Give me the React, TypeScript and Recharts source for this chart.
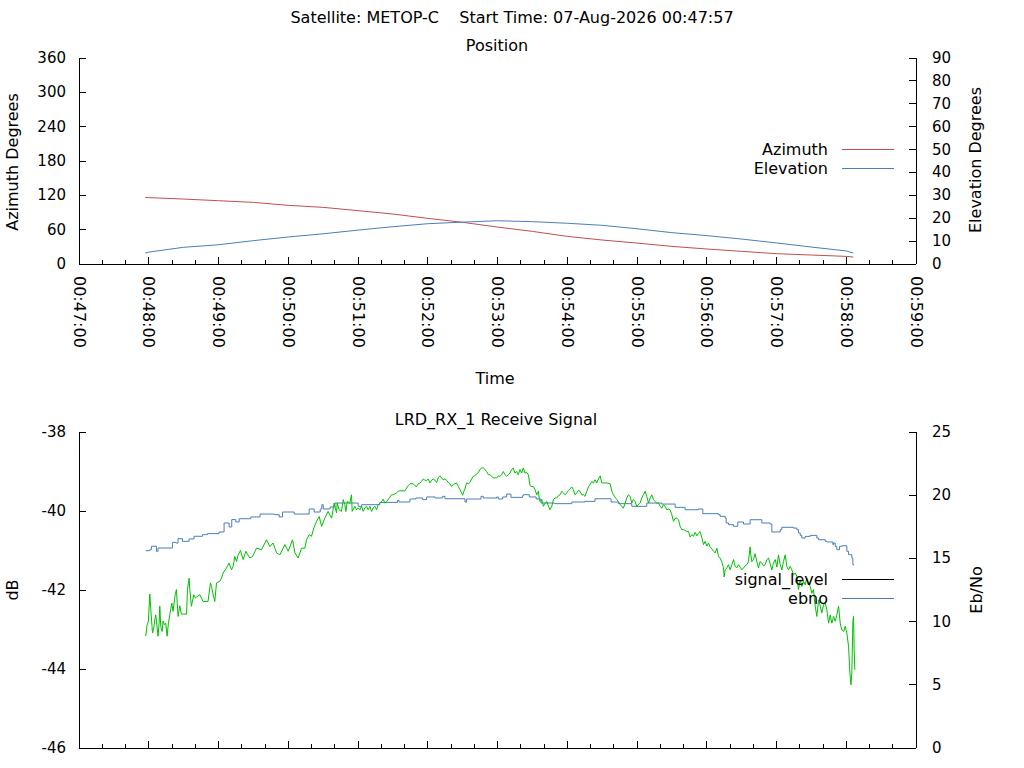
import React from 'react'
import { Legend, Line, LineChart, XAxis, YAxis } from 'recharts'

// time axis: seconds after 00:47:00
const TIME_LABELS = [
  '00:47:00', '00:48:00', '00:49:00', '00:50:00', '00:51:00', '00:52:00', '00:53:00',
  '00:54:00', '00:55:00', '00:56:00', '00:57:00', '00:58:00', '00:59:00',
]
const TIME_TICKS = Array.from({ length: 37 }, (_, i) => i * 20)

const AZ_TICKS = [0, 60, 120, 180, 240, 300, 360]
const EL_TICKS = [0, 10, 20, 30, 40, 50, 60, 70, 80, 90]
const DB_TICKS = [-46, -44, -42, -40, -38]
const EBNO_TICKS = [0, 5, 10, 15, 20, 25]

// position pass
const POS_T = [57, 60, 90, 120, 150, 180, 210, 240, 270, 300, 330, 360, 390, 420, 450, 480, 510, 540, 570, 600, 630, 660, 666]
const AZIMUTH = [116.5, 116.0, 113.5, 110.6, 107.7, 102.5, 99.0, 93.2, 87.3, 79.8, 72.8, 64.6, 57.0, 48.3, 41.9, 36.6, 30.8, 26.2, 22.1, 18.0, 15.7, 13.3, 12.2]
const ELEVATION = [4.8, 5.2, 7.3, 8.4, 10.2, 11.8, 13.2, 14.8, 16.3, 17.6, 18.3, 18.9, 18.5, 17.8, 16.9, 15.4, 13.7, 12.4, 10.9, 9.2, 7.4, 5.7, 4.8]

// received signal level (dB)
const SIG_T = [
  57.4, 58.5, 59.7, 60.9, 61.7, 62.8, 63.2, 64.3, 65.2, 66.0, 66.6, 68.0, 68.9, 69.5, 70.3, 71.5, 72.3, 73.5, 74.6, 75.8,
  76.9, 78.1, 79.8, 80.9, 82.7, 83.8, 85.2, 86.7, 88.1, 92.5, 93.3, 94.7, 95.3, 96.7, 98.7, 100.2, 103.9, 106.7, 111.0, 111.9,
  113.1, 114.0, 115.4, 116.8, 118.3, 121.1, 122.6, 124.0, 126.9, 129.1, 131.2, 132.6, 134.0, 135.5, 136.9, 138.9, 141.2, 143.5, 146.9, 149.3,
  152.7, 157.0, 161.3, 164.2, 167.0, 169.9, 172.8, 177.1, 179.9, 183.7, 185.7, 188.5, 191.4, 194.3, 195.7, 198.0, 200.0, 202.0, 204.4, 206.6,
  208.7, 211.5, 214.3, 217.3, 219.5, 221.5, 222.1, 223.8, 225.8, 227.3, 228.7, 229.6, 230.7, 233.0, 234.4, 235.0, 237.3, 238.8, 240.2, 241.6,
  243.1, 244.5, 245.9, 247.4, 248.8, 250.2, 251.7, 253.1, 254.5, 256.0, 257.4, 258.8, 260.3, 261.7, 263.1, 264.6, 266.0, 267.4, 268.9, 270.3,
  273.2, 274.6, 276.0, 280.4, 281.8, 283.2, 284.7, 287.5, 289.0, 290.4, 291.8, 293.3, 294.7, 296.1, 297.6, 299.0, 300.4, 301.9, 303.3, 304.7,
  306.2, 307.6, 309.0, 310.5, 311.9, 313.3, 314.8, 316.2, 317.7, 319.1, 320.5, 322.0, 323.4, 324.8, 326.3, 327.7, 329.1, 330.0, 331.1, 332.0,
  333.4, 334.9, 336.3, 337.7, 339.2, 340.6, 342.0, 343.5, 344.9, 346.3, 347.8, 349.2, 350.6, 352.1, 353.5, 356.4, 359.3, 360.7, 362.1, 363.6,
  365.0, 366.4, 367.9, 369.3, 370.7, 372.2, 373.6, 375.0, 376.5, 377.9, 379.3, 380.8, 382.2, 383.6, 385.1, 386.5, 388.0, 389.4, 390.9, 392.3,
  393.2, 393.7, 395.2, 396.0, 396.6, 398.1, 399.5, 400.9, 402.4, 403.8, 405.2, 406.7, 408.1, 409.5, 411.0, 412.4, 413.8, 415.3, 416.7, 418.1,
  419.6, 421.0, 422.4, 423.9, 425.3, 426.7, 428.2, 429.6, 431.0, 432.5, 433.9, 435.3, 436.8, 438.2, 439.6, 441.1, 442.5, 443.9, 445.4, 446.8,
  448.3, 449.7, 451.1, 454.0, 456.9, 458.3, 459.7, 461.2, 462.6, 464.0, 465.5, 466.9, 468.3, 469.8, 471.2, 472.6, 474.1, 475.5, 476.9, 478.4,
  479.8, 481.2, 482.7, 484.1, 485.5, 487.0, 488.4, 489.9, 491.3, 492.7, 494.2, 495.6, 497.0, 498.5, 499.9, 501.3, 502.8, 504.2, 505.6, 507.1,
  508.5, 509.9, 511.4, 512.8, 514.2, 515.7, 517.1, 518.5, 520.0, 521.4, 522.9, 524.3, 525.7, 527.2, 528.6, 530.0, 531.5, 532.9, 534.3, 535.8,
  537.2, 538.6, 540.1, 541.5, 542.9, 544.4, 545.8, 547.2, 548.7, 550.1, 551.5, 552.9, 554.4, 555.0, 555.8, 557.3, 558.7, 560.1, 561.6, 563.0,
  564.4, 565.9, 567.3, 568.7, 570.2, 571.6, 573.0, 574.5, 575.9, 577.3, 577.9, 578.8, 580.2, 581.6, 583.1, 584.5, 585.9, 587.4, 588.8, 590.2,
  591.7, 593.1, 594.5, 596.0, 597.4, 598.9, 600.3, 601.7, 603.2, 604.6, 606.0, 607.5, 608.9, 610.3, 611.8, 613.2, 614.6, 616.1, 617.5, 618.9,
  620.4, 621.8, 623.2, 624.7, 626.1, 627.5, 629.0, 630.4, 631.8, 633.3, 634.7, 636.2, 637.6, 639.0, 640.5, 641.9, 643.3, 644.8, 646.2, 647.6,
  649.1, 650.5, 651.9, 653.4, 654.8, 656.2, 657.7, 659.1, 660.5, 662.0, 662.8, 663.4, 664.0, 664.8, 665.7, 666.3, 666.8, 667.4,
]
const SIG_DB = [
  -43.17, -42.90, -42.79, -42.10, -42.46, -42.92, -43.09, -42.96, -42.75, -42.63, -42.79, -43.17, -42.84, -42.41, -42.92, -43.05, -42.79, -42.88, -42.84, -43.17,
  -42.84, -42.63, -42.33, -42.54, -42.12, -41.99, -42.67, -42.40, -42.61, -42.61, -41.99, -41.70, -41.99, -42.41, -42.12, -42.20, -42.12, -42.29, -42.29, -42.08,
  -41.82, -41.91, -42.12, -42.29, -41.82, -41.78, -41.70, -41.57, -41.44, -41.32, -41.49, -41.40, -41.15, -41.28, -41.11, -41.00, -41.23, -41.02, -41.19, -41.15,
  -40.94, -40.98, -40.73, -40.90, -40.81, -41.06, -41.11, -40.85, -41.02, -40.73, -41.06, -41.19, -40.94, -40.94, -40.73, -40.60, -40.64, -40.43, -40.26, -40.14,
  -40.39, -40.18, -40.01, -40.18, -39.80, -40.05, -39.80, -39.97, -40.01, -39.71, -39.84, -40.01, -39.76, -39.80, -39.59, -40.01, -39.88, -39.97, -39.92, -39.97,
  -39.88, -40.01, -39.92, -39.88, -39.97, -39.88, -40.01, -39.92, -39.88, -39.97, -39.84, -39.80, -39.76, -39.70, -39.80, -39.76, -39.71, -39.65, -39.59, -39.59,
  -39.54, -39.50, -39.49, -39.49, -39.42, -39.36, -39.31, -39.31, -39.36, -39.38, -39.31, -39.29, -39.25, -39.19, -39.22, -39.23, -39.19, -39.29, -39.22, -39.19,
  -39.22, -39.28, -39.16, -39.11, -39.16, -39.21, -39.19, -39.22, -39.28, -39.31, -39.38, -39.33, -39.31, -39.29, -39.38, -39.46, -39.54, -39.60, -39.50, -39.44,
  -39.29, -39.31, -39.28, -39.19, -39.12, -39.11, -39.06, -39.03, -38.95, -38.91, -38.91, -38.95, -39.00, -39.08, -39.08, -39.16, -39.16, -39.12, -39.12, -39.08,
  -39.00, -39.08, -39.12, -39.08, -39.04, -38.95, -38.91, -39.04, -39.00, -39.08, -38.95, -39.04, -38.91, -39.04, -39.02, -39.08, -39.36, -39.38, -39.38, -39.46,
  -39.54, -39.59, -39.50, -39.71, -39.76, -39.71, -39.88, -39.80, -39.76, -39.88, -39.97, -39.88, -39.71, -39.67, -39.67, -39.61, -39.59, -39.50, -39.54, -39.59,
  -39.54, -39.48, -39.44, -39.39, -39.46, -39.59, -39.54, -39.48, -39.50, -39.59, -39.59, -39.63, -39.50, -39.39, -39.33, -39.25, -39.29, -39.21, -39.29, -39.19,
  -39.11, -39.29, -39.29, -39.29, -39.31, -39.50, -39.59, -39.65, -39.71, -39.76, -39.84, -39.88, -39.93, -39.80, -39.67, -39.59, -39.63, -39.80, -39.71, -39.76,
  -39.88, -39.84, -39.80, -39.67, -39.59, -39.50, -39.63, -39.80, -39.67, -39.59, -39.71, -39.76, -39.80, -39.80, -39.88, -39.93, -39.84, -39.88, -39.97, -39.95,
  -39.97, -40.09, -40.26, -40.18, -40.18, -40.22, -40.39, -40.47, -40.47, -40.49, -40.52, -40.52, -40.66, -40.60, -40.64, -40.54, -40.63, -40.56, -40.52, -40.68,
  -40.85, -40.77, -40.89, -40.81, -40.91, -40.96, -41.02, -41.06, -40.94, -41.15, -41.19, -41.28, -41.44, -41.67, -41.49, -41.44, -41.36, -41.49, -41.36, -41.23,
  -41.40, -41.44, -41.36, -41.42, -41.49, -41.44, -41.39, -41.36, -41.28, -40.91, -41.11, -41.28, -41.23, -41.08, -41.28, -41.44, -41.28, -41.32, -41.39, -41.36,
  -41.23, -41.19, -41.33, -41.49, -41.32, -41.23, -41.42, -41.11, -41.36, -41.49, -41.28, -41.11, -41.40, -41.49, -41.40, -41.49, -41.61, -41.57, -41.65, -41.99,
  -41.74, -41.91, -41.78, -41.87, -41.70, -41.82, -41.91, -42.08, -41.99, -42.41, -42.67, -42.25, -42.41, -42.58, -42.37, -42.33, -42.50, -42.84, -42.63, -42.84,
  -42.67, -42.79, -42.63, -42.41, -42.84, -43.01, -43.05, -42.92, -43.09, -43.43, -43.93, -44.19, -44.40, -44.10, -42.79, -42.67, -43.51, -44.02,
]

// Eb/No (dB), logged in steps
const EBNO_T = [
  57.4, 60.9, 62.3, 66.6, 68.0, 80.4, 83.2, 85.2, 89.0, 94.7, 99.0, 106.2, 110.5, 120.5, 124.8, 129.1, 131.4, 134.9, 137.8, 147.8,
  155.8, 167.9, 172.2, 175.0, 185.1, 198.0, 202.3, 207.5, 208.9, 210.1, 216.1, 220.1, 240.2, 243.1, 258.8, 274.0, 275.2, 284.7, 289.8, 295.6,
  299.0, 306.2, 312.8, 314.8, 332.0, 333.4, 345.8, 347.8, 359.3, 360.7, 364.4, 367.9, 371.6, 381.6, 382.3, 387.4, 393.2, 397.5, 409.0, 423.9,
  435.3, 443.9, 457.7, 464.0, 475.5, 488.4, 501.3, 512.8, 521.4, 532.9, 536.6, 550.1, 551.5, 555.8, 556.7, 558.7, 563.0, 566.7, 571.6, 577.3,
  587.4, 594.5, 596.0, 603.2, 604.6, 614.6, 617.5, 618.9, 620.4, 621.8, 624.7, 629.0, 634.7, 636.2, 641.9, 643.3, 648.5, 649.1, 650.5, 651.9,
  654.2, 656.2, 660.5, 662.0, 664.8, 665.7, 666.8,
]
const EBNO = [
  15.61, 15.69, 15.96, 15.56, 15.82, 16.27, 16.22, 16.56, 16.35, 16.54, 16.75, 16.88, 16.96, 17.09, 17.80, 17.49, 18.07, 17.88, 18.14, 18.28,
  18.51, 18.46, 18.28, 18.67, 18.51, 18.91, 18.67, 18.91, 19.25, 18.91, 19.07, 19.38, 19.12, 19.25, 19.43, 19.59, 19.46, 19.70, 19.78, 19.65,
  19.86, 19.78, 19.91, 19.72, 19.46, 19.70, 19.91, 19.78, 19.86, 19.70, 19.86, 20.09, 19.83, 19.96, 20.04, 19.86, 19.70, 19.38, 19.33, 19.46,
  19.51, 19.72, 19.46, 19.33, 19.12, 19.38, 19.30, 19.04, 18.85, 18.91, 18.54, 18.46, 18.33, 18.19, 17.80, 17.67, 17.54, 17.88, 17.72, 18.06,
  17.80, 17.72, 17.09, 17.27, 17.46, 17.40, 17.27, 17.01, 16.82, 16.61, 16.74, 16.82, 16.61, 16.48, 16.35, 16.30, 16.09, 16.22, 15.95, 15.69,
  15.95, 16.00, 15.56, 15.29, 15.03, 14.50, 14.50,
]

const RED = '#c0504d'
const BLUE = '#4a7ebb'
const GREEN = '#00c000'
const FONT = "'DejaVu Sans', sans-serif"
const FS = 16
const TICK_FS = 15

const posData = POS_T.map((t, i) => ({ t, az: AZIMUTH[i], el: ELEVATION[i] }))
const sigData = SIG_T.map((t, i) => ({ t, v: SIG_DB[i] }))
const ebnoData = EBNO_T.map((t, i) => ({ t, v: EBNO[i] }))

function timeTick(labels: boolean, top: boolean) {
  return (p: any) => {
    const major = p.payload.value % 60 === 0
    const len = major ? 7 : 4
    return (
      <g>
        <line x1={p.x} x2={p.x} y1={p.y} y2={top ? p.y + len : p.y - len} stroke="#000" shapeRendering="crispEdges" />
        {labels && major && (
          <text
            transform={`translate(${p.x},${p.y + 12}) rotate(90)`}
            dominantBaseline="central"
            fontFamily={FONT}
            fontSize={FS}
            fill="#000"
          >
            {TIME_LABELS[p.payload.value / 60]}
          </text>
        )}
      </g>
    )
  }
}

const leftTick = (p: any) => (
  <g>
    <line x1={p.x} x2={p.x + 7} y1={p.y} y2={p.y} stroke="#000" shapeRendering="crispEdges" />
    <text x={p.x - 13} y={p.y} textAnchor="end" dominantBaseline="central" fontFamily={FONT} fontSize={TICK_FS} fill="#000">
      {p.payload.value}
    </text>
  </g>
)

const rightTick = (p: any) => (
  <g>
    <line x1={p.x - 7} x2={p.x} y1={p.y} y2={p.y} stroke="#000" shapeRendering="crispEdges" />
    <text x={p.x + 16} y={p.y} textAnchor="start" dominantBaseline="central" fontFamily={FONT} fontSize={TICK_FS} fill="#000">
      {p.payload.value}
    </text>
  </g>
)

function legendBox(items: { name: string; color: string }[]) {
  return () => (
    <div style={{ fontFamily: FONT, fontSize: FS, color: '#000' }}>
      {items.map((it) => (
        <div key={it.name} style={{ display: 'flex', alignItems: 'center', height: 19 }}>
          <span style={{ width: 134, textAlign: 'right', whiteSpace: 'nowrap' }}>{it.name}</span>
          <span style={{ width: 14 }} />
          <span style={{ width: 52, height: 1, background: it.color }} />
        </div>
      ))}
    </div>
  )
}

function Caption({ x, y, text, rotate }: { x: number; y: number; text: string; rotate?: boolean }) {
  return (
    <div
      style={{
        position: 'absolute',
        left: x,
        top: y,
        transform: `translate(-50%, -50%)${rotate ? ' rotate(-90deg)' : ''}`,
        whiteSpace: 'pre',
        fontFamily: FONT,
        fontSize: FS,
        lineHeight: 1,
        color: '#000',
      }}
    >
      {text}
    </div>
  )
}

const axisLine = { stroke: '#000', shapeRendering: 'crispEdges' }

export default function App() {
  return (
    <div style={{ position: 'absolute', left: 0, top: 0, width: 1024, height: 768, background: '#fff' }}>
      <Caption x={512} y={18} text={'Satellite: METOP-C    Start Time: 07-Aug-2026 00:47:57'} />
      <Caption x={497} y={46} text="Position" />
      <Caption x={495} y={379} text="Time" />
      <Caption x={13} y={162} text="Azimuth Degrees" rotate />
      <Caption x={976} y={160} text="Elevation Degrees" rotate />
      <Caption x={496} y={420} text="LRD_RX_1 Receive Signal" />
      <Caption x={13} y={590} text="dB" rotate />
      <Caption x={977} y={590} text="Eb/No" rotate />

      <div style={{ position: 'absolute', left: 0, top: 0 }}>
        <LineChart width={1024} height={400} data={posData} margin={{ top: 58, right: 48, bottom: 0, left: 19 }}>
          <XAxis xAxisId="b" dataKey="t" type="number" domain={[0, 720]} allowDataOverflow ticks={TIME_TICKS}
            interval={0} height={136} tickSize={0} tickMargin={0} tickLine={false} axisLine={axisLine} tick={timeTick(true, false)} />
          <XAxis xAxisId="t" orientation="top" dataKey="t" type="number" domain={[0, 720]} allowDataOverflow ticks={TIME_TICKS}
            interval={0} height={0} tickSize={0} tickMargin={0} tickLine={false} axisLine={axisLine} tick={timeTick(false, true)} />
          <YAxis yAxisId="l" domain={[0, 360]} ticks={AZ_TICKS} interval={0} width={60} tickSize={0} tickMargin={0}
            tickLine={false} axisLine={axisLine} tick={leftTick} />
          <YAxis yAxisId="r" orientation="right" domain={[0, 90]} ticks={EL_TICKS} interval={0} width={60} tickSize={0}
            tickMargin={0} tickLine={false} axisLine={axisLine} tick={rightTick} />
          <Line xAxisId="b" yAxisId="l" type="linear" dataKey="az" name="Azimuth" stroke={RED} strokeWidth={1} dot={false} isAnimationActive={false} />
          <Line xAxisId="b" yAxisId="r" type="linear" dataKey="el" name="Elevation" stroke={BLUE} strokeWidth={1} dot={false} isAnimationActive={false} />
          <Legend layout="vertical" align="center" verticalAlign="middle"
            wrapperStyle={{ left: 694, top: 140, width: 200, bottom: 'auto', right: 'auto' }}
            content={legendBox([{ name: 'Azimuth', color: RED }, { name: 'Elevation', color: BLUE }])} />
        </LineChart>
      </div>

      <div style={{ position: 'absolute', left: 0, top: 400 }}>
        <LineChart width={1024} height={368} margin={{ top: 32, right: 48, bottom: 0, left: 19 }}>
          <XAxis xAxisId="b" dataKey="t" type="number" domain={[0, 720]} allowDataOverflow ticks={TIME_TICKS}
            interval={0} height={20} tickSize={0} tickMargin={0} tickLine={false} axisLine={axisLine} tick={timeTick(false, false)} />
          <XAxis xAxisId="t" orientation="top" dataKey="t" type="number" domain={[0, 720]} allowDataOverflow ticks={TIME_TICKS}
            interval={0} height={0} tickSize={0} tickMargin={0} tickLine={false} axisLine={axisLine} tick={timeTick(false, true)} />
          <YAxis yAxisId="l" domain={[-46, -38]} ticks={DB_TICKS} interval={0} width={60} tickSize={0} tickMargin={0}
            tickLine={false} axisLine={axisLine} tick={leftTick} />
          <YAxis yAxisId="r" orientation="right" domain={[0, 25]} ticks={EBNO_TICKS} interval={0} width={60} tickSize={0}
            tickMargin={0} tickLine={false} axisLine={axisLine} tick={rightTick} />
          <Line data={ebnoData} xAxisId="b" yAxisId="r" type="stepAfter" dataKey="v" name="ebno" stroke={BLUE} strokeWidth={1} dot={false} isAnimationActive={false} />
          <Line data={sigData} xAxisId="b" yAxisId="l" type="linear" dataKey="v" name="signal_level" stroke={GREEN} strokeWidth={1} dot={false} isAnimationActive={false} />
          <Legend layout="vertical" align="center" verticalAlign="middle"
            wrapperStyle={{ left: 694, top: 170, width: 200, bottom: 'auto', right: 'auto' }}
            content={legendBox([{ name: 'signal_level', color: '#000' }, { name: 'ebno', color: BLUE }])} />
        </LineChart>
      </div>
    </div>
  )
}
